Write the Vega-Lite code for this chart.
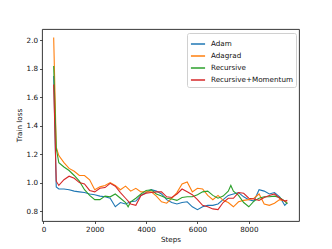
{
  "$schema": "https://vega.github.io/schema/vega-lite/v6.json",
  "autosize": {"type": "none"},
  "padding": {"left": 42, "top": 29, "right": 33, "bottom": 28},
  "width": 257,
  "height": 192,
  "background": "white",
  "config": {
    "font": "DejaVu Sans",
    "view": {"stroke": "#222", "strokeWidth": 0.9},
    "axis": {
      "grid": false,
      "domain": false,
      "tickColor": "#222",
      "tickSize": 2.5,
      "tickWidth": 0.8,
      "labelFontSize": 7.2,
      "labelColor": "#111",
      "labelFont": "DejaVu Sans",
      "titleFont": "DejaVu Sans",
      "titleFontSize": 7.2,
      "titleFontWeight": "normal",
      "titleColor": "#111",
      "labelPadding": 2
    }
  },
  "data": {
    "values": [
      {"series": "Adam", "step": 400, "loss": 1.75},
      {"series": "Adam", "step": 500, "loss": 0.97},
      {"series": "Adam", "step": 600, "loss": 0.955},
      {"series": "Adam", "step": 800, "loss": 0.955},
      {"series": "Adam", "step": 1000, "loss": 0.95},
      {"series": "Adam", "step": 1200, "loss": 0.94},
      {"series": "Adam", "step": 1400, "loss": 0.935},
      {"series": "Adam", "step": 1600, "loss": 0.93},
      {"series": "Adam", "step": 1800, "loss": 0.92},
      {"series": "Adam", "step": 2000, "loss": 0.915},
      {"series": "Adam", "step": 2200, "loss": 0.905},
      {"series": "Adam", "step": 2400, "loss": 0.9},
      {"series": "Adam", "step": 2600, "loss": 0.89},
      {"series": "Adam", "step": 2800, "loss": 0.83},
      {"series": "Adam", "step": 3000, "loss": 0.86},
      {"series": "Adam", "step": 3200, "loss": 0.85},
      {"series": "Adam", "step": 3400, "loss": 0.865},
      {"series": "Adam", "step": 3600, "loss": 0.87},
      {"series": "Adam", "step": 3800, "loss": 0.91},
      {"series": "Adam", "step": 4000, "loss": 0.93},
      {"series": "Adam", "step": 4200, "loss": 0.95},
      {"series": "Adam", "step": 4400, "loss": 0.94},
      {"series": "Adam", "step": 4600, "loss": 0.92},
      {"series": "Adam", "step": 4800, "loss": 0.88},
      {"series": "Adam", "step": 5000, "loss": 0.86},
      {"series": "Adam", "step": 5200, "loss": 0.85},
      {"series": "Adam", "step": 5400, "loss": 0.86},
      {"series": "Adam", "step": 5600, "loss": 0.865},
      {"series": "Adam", "step": 5800, "loss": 0.83},
      {"series": "Adam", "step": 6000, "loss": 0.81},
      {"series": "Adam", "step": 6200, "loss": 0.83},
      {"series": "Adam", "step": 6400, "loss": 0.84},
      {"series": "Adam", "step": 6600, "loss": 0.84},
      {"series": "Adam", "step": 6800, "loss": 0.85},
      {"series": "Adam", "step": 7000, "loss": 0.88},
      {"series": "Adam", "step": 7200, "loss": 0.91},
      {"series": "Adam", "step": 7400, "loss": 0.92},
      {"series": "Adam", "step": 7600, "loss": 0.93},
      {"series": "Adam", "step": 7800, "loss": 0.9},
      {"series": "Adam", "step": 8000, "loss": 0.88},
      {"series": "Adam", "step": 8200, "loss": 0.87},
      {"series": "Adam", "step": 8400, "loss": 0.95},
      {"series": "Adam", "step": 8600, "loss": 0.94},
      {"series": "Adam", "step": 8800, "loss": 0.92},
      {"series": "Adam", "step": 9000, "loss": 0.93},
      {"series": "Adam", "step": 9200, "loss": 0.9},
      {"series": "Adam", "step": 9400, "loss": 0.84},
      {"series": "Adam", "step": 9500, "loss": 0.86},

      {"series": "Adagrad", "step": 400, "loss": 2.02},
      {"series": "Adagrad", "step": 500, "loss": 1.25},
      {"series": "Adagrad", "step": 600, "loss": 1.19},
      {"series": "Adagrad", "step": 800, "loss": 1.14},
      {"series": "Adagrad", "step": 1000, "loss": 1.1},
      {"series": "Adagrad", "step": 1200, "loss": 1.08},
      {"series": "Adagrad", "step": 1400, "loss": 1.05},
      {"series": "Adagrad", "step": 1600, "loss": 1.05},
      {"series": "Adagrad", "step": 1800, "loss": 1.02},
      {"series": "Adagrad", "step": 2000, "loss": 0.95},
      {"series": "Adagrad", "step": 2200, "loss": 0.97},
      {"series": "Adagrad", "step": 2400, "loss": 0.98},
      {"series": "Adagrad", "step": 2600, "loss": 1.0},
      {"series": "Adagrad", "step": 2800, "loss": 0.98},
      {"series": "Adagrad", "step": 3000, "loss": 0.95},
      {"series": "Adagrad", "step": 3200, "loss": 0.975},
      {"series": "Adagrad", "step": 3400, "loss": 0.94},
      {"series": "Adagrad", "step": 3600, "loss": 0.96},
      {"series": "Adagrad", "step": 3800, "loss": 0.935},
      {"series": "Adagrad", "step": 4000, "loss": 0.935},
      {"series": "Adagrad", "step": 4200, "loss": 0.935},
      {"series": "Adagrad", "step": 4400, "loss": 0.905},
      {"series": "Adagrad", "step": 4600, "loss": 0.865},
      {"series": "Adagrad", "step": 4800, "loss": 0.855},
      {"series": "Adagrad", "step": 5000, "loss": 0.89},
      {"series": "Adagrad", "step": 5200, "loss": 0.93},
      {"series": "Adagrad", "step": 5400, "loss": 0.99},
      {"series": "Adagrad", "step": 5600, "loss": 1.005},
      {"series": "Adagrad", "step": 5800, "loss": 0.935},
      {"series": "Adagrad", "step": 6000, "loss": 0.96},
      {"series": "Adagrad", "step": 6200, "loss": 0.955},
      {"series": "Adagrad", "step": 6400, "loss": 0.91},
      {"series": "Adagrad", "step": 6600, "loss": 0.88},
      {"series": "Adagrad", "step": 6800, "loss": 0.91},
      {"series": "Adagrad", "step": 7000, "loss": 0.875},
      {"series": "Adagrad", "step": 7200, "loss": 0.86},
      {"series": "Adagrad", "step": 7400, "loss": 0.83},
      {"series": "Adagrad", "step": 7600, "loss": 0.865},
      {"series": "Adagrad", "step": 7800, "loss": 0.875},
      {"series": "Adagrad", "step": 8000, "loss": 0.88},
      {"series": "Adagrad", "step": 8200, "loss": 0.89},
      {"series": "Adagrad", "step": 8400, "loss": 0.92},
      {"series": "Adagrad", "step": 8600, "loss": 0.85},
      {"series": "Adagrad", "step": 8800, "loss": 0.84},
      {"series": "Adagrad", "step": 9000, "loss": 0.855},
      {"series": "Adagrad", "step": 9200, "loss": 0.88},
      {"series": "Adagrad", "step": 9400, "loss": 0.87},
      {"series": "Adagrad", "step": 9500, "loss": 0.86},

      {"series": "Recursive", "step": 400, "loss": 1.82},
      {"series": "Recursive", "step": 500, "loss": 1.24},
      {"series": "Recursive", "step": 600, "loss": 1.14},
      {"series": "Recursive", "step": 800, "loss": 1.11},
      {"series": "Recursive", "step": 1000, "loss": 1.085},
      {"series": "Recursive", "step": 1200, "loss": 1.05},
      {"series": "Recursive", "step": 1400, "loss": 1.01},
      {"series": "Recursive", "step": 1600, "loss": 0.95},
      {"series": "Recursive", "step": 1800, "loss": 0.91},
      {"series": "Recursive", "step": 2000, "loss": 0.88},
      {"series": "Recursive", "step": 2200, "loss": 0.88},
      {"series": "Recursive", "step": 2400, "loss": 0.905},
      {"series": "Recursive", "step": 2600, "loss": 0.9},
      {"series": "Recursive", "step": 2800, "loss": 0.92},
      {"series": "Recursive", "step": 3000, "loss": 0.89},
      {"series": "Recursive", "step": 3200, "loss": 0.86},
      {"series": "Recursive", "step": 3300, "loss": 0.83},
      {"series": "Recursive", "step": 3400, "loss": 0.865},
      {"series": "Recursive", "step": 3600, "loss": 0.89},
      {"series": "Recursive", "step": 3800, "loss": 0.92},
      {"series": "Recursive", "step": 4000, "loss": 0.945},
      {"series": "Recursive", "step": 4200, "loss": 0.95},
      {"series": "Recursive", "step": 4400, "loss": 0.92},
      {"series": "Recursive", "step": 4600, "loss": 0.905},
      {"series": "Recursive", "step": 4800, "loss": 0.89},
      {"series": "Recursive", "step": 5000, "loss": 0.885},
      {"series": "Recursive", "step": 5200, "loss": 0.875},
      {"series": "Recursive", "step": 5400, "loss": 0.895},
      {"series": "Recursive", "step": 5600, "loss": 0.9},
      {"series": "Recursive", "step": 5800, "loss": 0.9},
      {"series": "Recursive", "step": 6000, "loss": 0.915},
      {"series": "Recursive", "step": 6200, "loss": 0.935},
      {"series": "Recursive", "step": 6400, "loss": 0.94},
      {"series": "Recursive", "step": 6600, "loss": 0.91},
      {"series": "Recursive", "step": 6800, "loss": 0.89},
      {"series": "Recursive", "step": 7000, "loss": 0.905},
      {"series": "Recursive", "step": 7200, "loss": 0.94},
      {"series": "Recursive", "step": 7300, "loss": 0.98},
      {"series": "Recursive", "step": 7400, "loss": 0.94},
      {"series": "Recursive", "step": 7600, "loss": 0.91},
      {"series": "Recursive", "step": 7800, "loss": 0.86},
      {"series": "Recursive", "step": 8000, "loss": 0.83},
      {"series": "Recursive", "step": 8200, "loss": 0.87},
      {"series": "Recursive", "step": 8400, "loss": 0.89},
      {"series": "Recursive", "step": 8600, "loss": 0.9},
      {"series": "Recursive", "step": 8800, "loss": 0.9},
      {"series": "Recursive", "step": 9000, "loss": 0.905},
      {"series": "Recursive", "step": 9200, "loss": 0.895},
      {"series": "Recursive", "step": 9400, "loss": 0.87},
      {"series": "Recursive", "step": 9500, "loss": 0.85},

      {"series": "Recursive+Momentum", "step": 400, "loss": 1.69},
      {"series": "Recursive+Momentum", "step": 500, "loss": 1.01},
      {"series": "Recursive+Momentum", "step": 600, "loss": 0.98},
      {"series": "Recursive+Momentum", "step": 800, "loss": 1.02},
      {"series": "Recursive+Momentum", "step": 1000, "loss": 1.045},
      {"series": "Recursive+Momentum", "step": 1200, "loss": 1.03},
      {"series": "Recursive+Momentum", "step": 1400, "loss": 1.0},
      {"series": "Recursive+Momentum", "step": 1600, "loss": 0.99},
      {"series": "Recursive+Momentum", "step": 1800, "loss": 0.945},
      {"series": "Recursive+Momentum", "step": 2000, "loss": 0.935},
      {"series": "Recursive+Momentum", "step": 2200, "loss": 0.96},
      {"series": "Recursive+Momentum", "step": 2400, "loss": 0.965},
      {"series": "Recursive+Momentum", "step": 2600, "loss": 0.995},
      {"series": "Recursive+Momentum", "step": 2800, "loss": 0.975},
      {"series": "Recursive+Momentum", "step": 3000, "loss": 0.93},
      {"series": "Recursive+Momentum", "step": 3200, "loss": 0.89},
      {"series": "Recursive+Momentum", "step": 3400, "loss": 0.85},
      {"series": "Recursive+Momentum", "step": 3600, "loss": 0.84},
      {"series": "Recursive+Momentum", "step": 3800, "loss": 0.91},
      {"series": "Recursive+Momentum", "step": 4000, "loss": 0.925},
      {"series": "Recursive+Momentum", "step": 4200, "loss": 0.93},
      {"series": "Recursive+Momentum", "step": 4400, "loss": 0.935},
      {"series": "Recursive+Momentum", "step": 4600, "loss": 0.935},
      {"series": "Recursive+Momentum", "step": 4800, "loss": 0.9},
      {"series": "Recursive+Momentum", "step": 5000, "loss": 0.895},
      {"series": "Recursive+Momentum", "step": 5200, "loss": 0.92},
      {"series": "Recursive+Momentum", "step": 5400, "loss": 0.955},
      {"series": "Recursive+Momentum", "step": 5600, "loss": 0.935},
      {"series": "Recursive+Momentum", "step": 5800, "loss": 0.915},
      {"series": "Recursive+Momentum", "step": 6000, "loss": 0.88},
      {"series": "Recursive+Momentum", "step": 6200, "loss": 0.84},
      {"series": "Recursive+Momentum", "step": 6400, "loss": 0.83},
      {"series": "Recursive+Momentum", "step": 6600, "loss": 0.815},
      {"series": "Recursive+Momentum", "step": 6800, "loss": 0.81},
      {"series": "Recursive+Momentum", "step": 7000, "loss": 0.86},
      {"series": "Recursive+Momentum", "step": 7200, "loss": 0.89},
      {"series": "Recursive+Momentum", "step": 7400, "loss": 0.89},
      {"series": "Recursive+Momentum", "step": 7600, "loss": 0.93},
      {"series": "Recursive+Momentum", "step": 7800, "loss": 0.925},
      {"series": "Recursive+Momentum", "step": 8000, "loss": 0.89},
      {"series": "Recursive+Momentum", "step": 8200, "loss": 0.885},
      {"series": "Recursive+Momentum", "step": 8400, "loss": 0.875},
      {"series": "Recursive+Momentum", "step": 8600, "loss": 0.895},
      {"series": "Recursive+Momentum", "step": 8800, "loss": 0.91},
      {"series": "Recursive+Momentum", "step": 9000, "loss": 0.92},
      {"series": "Recursive+Momentum", "step": 9200, "loss": 0.89},
      {"series": "Recursive+Momentum", "step": 9400, "loss": 0.87},
      {"series": "Recursive+Momentum", "step": 9500, "loss": 0.875}
    ]
  },
  "mark": {"type": "line", "strokeWidth": 1.1, "interpolate": "linear"},
  "encoding": {
    "x": {
      "field": "step",
      "type": "quantitative",
      "scale": {"domain": [-55, 9955], "nice": false, "zero": false},
      "axis": {"values": [0, 2000, 4000, 6000, 8000], "format": "d", "title": "Steps", "titlePadding": 3, "labelFlush": false}
    },
    "y": {
      "field": "loss",
      "type": "quantitative",
      "scale": {"domain": [0.73, 2.08], "nice": false, "zero": false},
      "axis": {"values": [0.8, 1.0, 1.2, 1.4, 1.6, 1.8, 2.0], "format": ".1f", "title": "Train loss", "titlePadding": 3, "labelFlush": false}
    },
    "color": {
      "field": "series",
      "type": "nominal",
      "scale": {
        "domain": ["Adam", "Adagrad", "Recursive", "Recursive+Momentum"],
        "range": ["#1f77b4", "#ff7f0e", "#2ca02c", "#d62728"]
      },
      "legend": {
        "title": null,
        "orient": "none",
        "legendX": 145,
        "legendY": 4,
        "symbolType": "stroke",
        "symbolSize": 200,
        "symbolStrokeWidth": 1.5,
        "labelFontSize": 7.2,
        "labelFont": "DejaVu Sans",
        "labelColor": "#111",
        "rowPadding": -3.5,
        "padding": 3,
        "strokeColor": "#d0d0d0",
        "fillColor": "white",
        "cornerRadius": 2,
        "labelOffset": 5
      }
    }
  }
}
